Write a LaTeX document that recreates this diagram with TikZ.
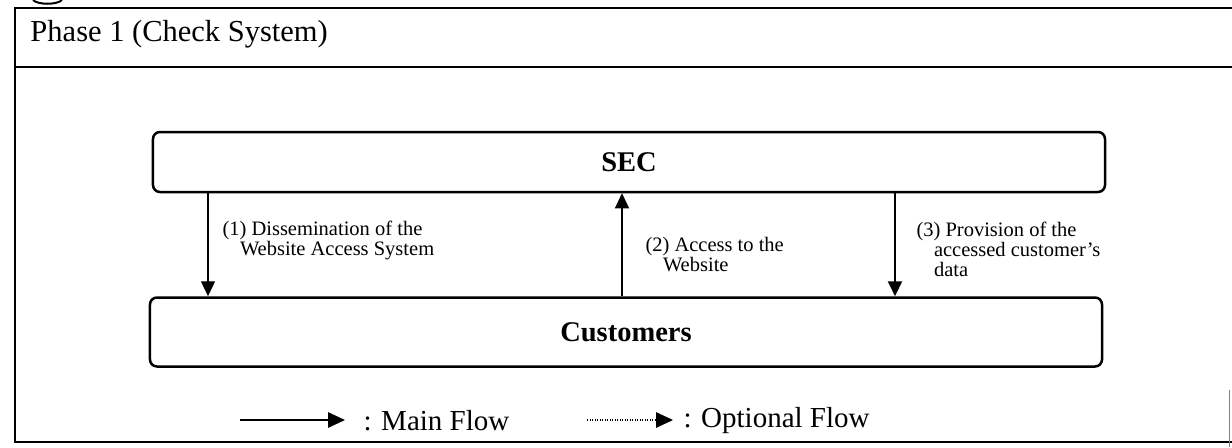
\documentclass[tikz,border=0pt]{standalone}
\usepackage{fontspec}
\setmainfont{Liberation Serif}
\usetikzlibrary{arrows.meta}
\newcommand{\ind}{\hspace*{7pt}}

\begin{document}
\begin{tikzpicture}[x=0.4pt,y=-0.4pt,
 frameline/.style={line width=0.8pt},
 partybox/.style={draw,line width=1pt,rounded corners=2.8pt,minimum width=380.8pt,inner sep=0pt,font=\fontsize{11.4}{13}\selectfont\bfseries},
 flowlabel/.style={anchor=west,align=left,inner sep=0pt,font=\fontsize{8.2}{8}\selectfont},
 flow/.style={line width=0.5pt,-{Triangle[length=6pt,width=5.6pt]}},
 legendflow/.style={line width=0.6pt,-{Triangle[length=6.8pt,width=6.2pt]}},
 legendtext/.style={anchor=west,inner sep=0pt,font=\fontsize{11.6}{13}\selectfont}]
 \fill [white] (0,0) rectangle (1232,447);
 \useasboundingbox (0,0) rectangle (1232,447);
 \draw [frameline] (1232,8) -- (15,8) -- (15,442) -- (1232,442);
 \draw [frameline] (15,67) -- (1232,67);
 \draw [black!50,line width=0.4pt] (1229,390) -- (1229,447);
 \draw [line width=0.8pt] (33,0) .. controls (38,5) and (57,5) .. (62,0);
 \node [anchor=base west,inner sep=0pt,font=\fontsize{12.2}{14}\selectfont] (title) at (30,41) {Phase 1 (Check System)};
 \node [partybox,minimum height=24pt] (sec) at (629,162) {SEC};
 \node [partybox,minimum height=27.6pt] (cust) at (626,332) {Customers};
 \coordinate (a1) at (208,0);
 \coordinate (a2) at (622,0);
 \coordinate (a3) at (895,0);
 \draw [flow] (sec.south -| a1) -- (cust.north -| a1);
 \draw [flow] (cust.north -| a2) -- (sec.south -| a2);
 \draw [flow,line width=0.8pt] (sec.south -| a3) -- (cust.north -| a3);
 \node [flowlabel] (lbl1) at (222,240) {(1) Dissemination of the\\\ind Website Access System};
 \node [flowlabel] (lbl2) at (645,255) {(2) Access to the\\\ind Website};
 \node [flowlabel] (lbl3) at (916,249) {(3) Provision of the\\\ind accessed customer's\\\ind data};
 \coordinate (ms) at (240,420);
 \coordinate (me) at (345,420);
 \draw [legendflow] (ms) -- (me);
 \node [legendtext] (mainlbl) at (363,421) {: Main Flow};
 \coordinate (os) at (587,420);
 \coordinate (oe) at (673,420);
 \draw [legendflow,dash pattern=on 0.5pt off 0.5pt] (os) -- (oe);
 \node [legendtext] (optlbl) at (683,421) {: Optional Flow};
\end{tikzpicture}
\end{document}
